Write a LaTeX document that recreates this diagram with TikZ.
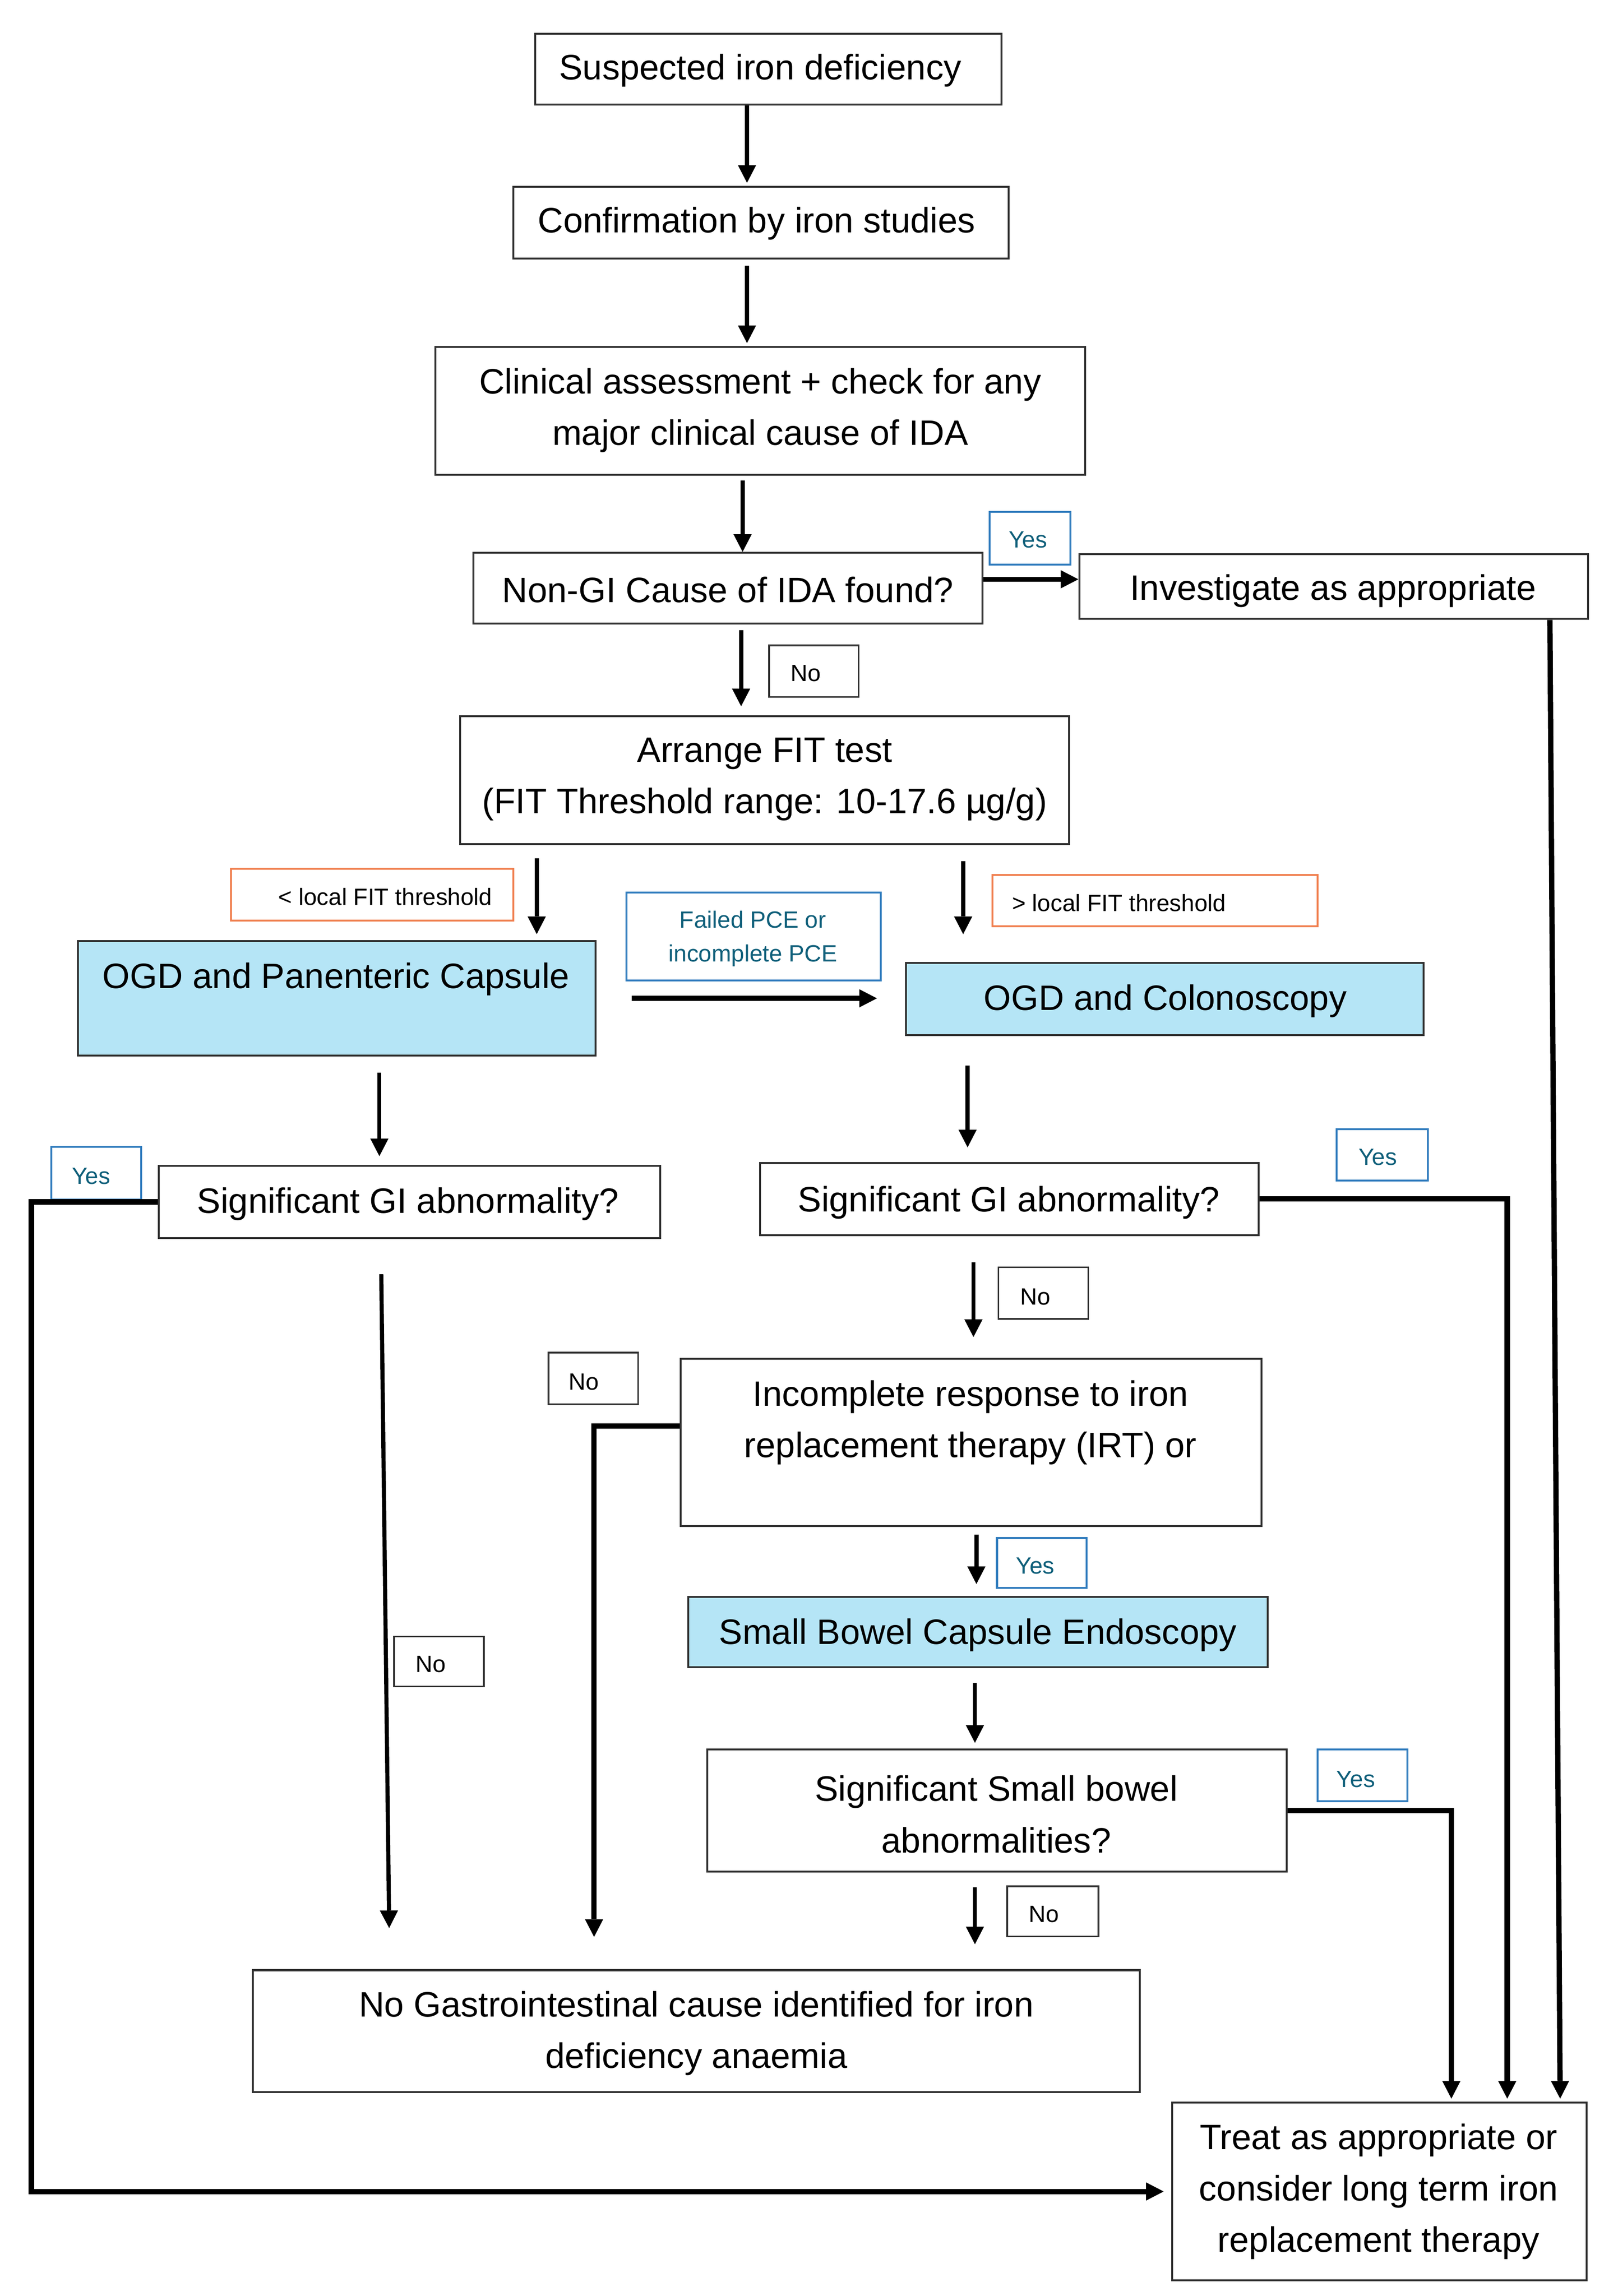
\documentclass[tikz,border=0pt]{standalone}
\usepackage{fontspec}
\setmainfont{Liberation Sans}
\usetikzlibrary{arrows.meta}
\definecolor{capblue}{RGB}{181,229,246}
\definecolor{lblblue}{RGB}{50,125,190}
\definecolor{lblorange}{RGB}{240,128,80}
\definecolor{lblteal}{RGB}{15,95,122}
\definecolor{edgegray}{RGB}{50,50,50}
\newcommand\bx[6]{\node[#2, minimum width={(#5-#3)*0.5pt}, minimum height={(#6-#4)*0.5pt}] (#1) at ({(#3+#5)/2},{(#4+#6)/2}) {};}
\tikzset{
  frame/.style={draw=edgegray, line width=0.65pt, inner sep=0pt, rectangle},
  capfill/.style={frame, fill=capblue},
  lblbox/.style={draw=edgegray, line width=0.55pt, inner sep=0pt, rectangle},
  yesbox/.style={draw=lblblue, line width=0.65pt, inner sep=0pt, rectangle},
  orbox/.style={draw=lblorange, line width=0.65pt, inner sep=0pt, rectangle},
  maintxt/.style={font=\fontsize{12}{17.5}\selectfont, align=center, inner sep=0pt},
  smalltxt/.style={font=\fontsize{8}{11.5}\selectfont, align=center, inner sep=0pt},
  yestxt/.style={smalltxt, text=lblteal},
  arr/.style={-{Triangle[length=6pt,width=6.2pt,line width=0pt]}, line width=1.4pt},
  arrthick/.style={arr, line width=1.8pt},
}
\begin{document}
\begin{tikzpicture}[x=0.5pt,y=-0.5pt]
\fill[white] (0,0) rectangle (1100,1561.6);
\useasboundingbox (0,0) rectangle (1100,1561.6);

% main boxes
\bx{b1}{frame}{364}{23}{681}{71}
\bx{b2}{frame}{349}{127}{686}{176}
\bx{b3}{frame}{296}{236}{738}{323}
\bx{b4}{frame}{322}{376}{668}{424}
\bx{b5}{frame}{734}{377}{1080}{421}
\bx{b8}{frame}{313}{487}{727}{574}
\bx{ogdp}{capfill}{53}{640}{405}{718}
\bx{ogdc}{capfill}{616}{655}{968}{704}
\bx{sigL}{frame}{108}{793}{449}{842}
\bx{sigR}{frame}{517}{791}{856}{840}
\bx{incomp}{frame}{463}{924}{858}{1038}
\bx{sbce}{capfill}{468}{1086}{862}{1134}
\bx{sigS}{frame}{481}{1190}{875}{1273}
\bx{nogi}{frame}{172}{1340}{775}{1423}
\bx{treat}{frame}{797}{1430}{1079}{1551}

% label boxes
\bx{yes1}{yesbox}{673}{348}{728}{384}
\bx{no1}{lblbox}{523}{439}{584}{474}
\bx{lt}{orbox}{157}{591}{349}{626}
\bx{fail}{yesbox}{426}{607}{599}{667}
\bx{gt}{orbox}{675}{595}{896}{630}
\bx{yes2}{yesbox}{35}{780}{96}{816}
\bx{yes3}{yesbox}{909}{768}{971}{803}
\bx{no2}{lblbox}{679}{862}{740}{897}
\bx{no3}{lblbox}{373}{920}{434}{955}
\bx{yes4}{yesbox}{678}{1046}{739}{1080}
\bx{yes5}{yesbox}{896}{1190}{957}{1225}
\bx{no4}{lblbox}{268}{1113}{329}{1147}
\bx{no5}{lblbox}{685}{1283}{747}{1317}

% main texts
\node[maintxt] (t1) at (517,48) {Suspected iron deficiency};
\node[maintxt] (t2) at (514.5,152) {Confirmation by iron studies};
\node[maintxt] (t3) at (517,279) {Clinical assessment + check for any\\major clinical cause of IDA};
\node[maintxt] (t4) at (495,401) {Non-GI Cause of IDA found?};
\node[maintxt] (t5) at (906.5,402) {Investigate as appropriate};
\node[maintxt] (t8) at (520,530) {Arrange FIT test\\(FIT Threshold range: 10-17.6 µg/g)};
\node[maintxt] (togdp) at (228.5,666) {OGD and Panenteric Capsule};
\node[maintxt] (togdc) at (792.5,681) {OGD and Colonoscopy};
\node[maintxt] (tsigL) at (277.5,819) {Significant GI abnormality?};
\node[maintxt] (tsigR) at (686,818) {Significant GI abnormality?};
\node[maintxt] (tincomp) at (660,967.5) {Incomplete response to iron\\replacement therapy (IRT) or};
\node[maintxt] (tsbce) at (665,1112) {Small Bowel Capsule Endoscopy};
\node[maintxt] (tsigS) at (677.5,1234) {Significant Small bowel\\abnormalities?};
\node[maintxt] (tnogi) at (473.5,1383) {No Gastrointestinal cause identified for iron\\deficiency anaemia};
\node[maintxt] (ttreat) at (937.5,1490.5) {Treat as appropriate or\\consider long term iron\\replacement therapy};

% label texts
\node[yestxt] (tyes1) at (699,367) {Yes};
\node[smalltxt] (tno1) at (548,458) {No};
\node[smalltxt] (tlt) at (262,610) {< local FIT threshold};
\node[yestxt] (tfail) at (512,638.5) {Failed PCE or\\incomplete PCE};
\node[smalltxt] (tgt) at (761,614) {> local FIT threshold};
\node[yestxt] (tyes2) at (62,800) {Yes};
\node[yestxt] (tyes3) at (937,787) {Yes};
\node[smalltxt] (tno2) at (704,882) {No};
\node[smalltxt] (tno3) at (397,940) {No};
\node[yestxt] (tyes4) at (704,1065) {Yes};
\node[yestxt] (tyes5) at (922,1210) {Yes};
\node[smalltxt] (tno4) at (293,1132) {No};
\node[smalltxt] (tno5) at (710,1302) {No};

% connectors
\draw[arr,shorten >=1pt] (b1.south -| 508,0) -- (b2.north -| 508,0);
\draw[arr,shorten <=2pt,shorten >=1pt] (b2.south -| 508,0) -- (b3.north -| 508,0);
\draw[arr,shorten <=1.5pt] (b3.south -| 505,0) -- (b4.north -| 505,0);
\draw[arr,line width=1.5pt] ([yshift=3pt]b4.east) -- ([yshift=2.5pt]b5.west);
\draw[arr,shorten <=2pt,shorten >=3pt] (b4.south -| 504,0) -- (b8.north -| 504,0);
\draw[arr,shorten <=4.5pt,shorten >=2pt] (b8.south -| 365,0) -- (ogdp.north -| 365,0);
\draw[arr,shorten <=5.5pt,shorten >=9.5pt] (b8.south -| 655,0) -- (ogdc.north -| 655,0);
\draw[arrthick,shorten <=12pt,shorten >=9.5pt] (ogdp.east) -- (ogdc.west |- ogdp.east);
\draw[arr,shorten <=5.5pt,shorten >=3pt] (ogdp.south -| 258,0) -- (sigL.north -| 258,0);
\draw[arr,shorten <=10pt,shorten >=5pt] (ogdc.south -| 658,0) -- (sigR.north -| 658,0);
\draw[arrthick,shorten >=2.5pt] (sigL.west) -- ++(-86,0) |- (treat.west);
\draw[arr,shorten <=12pt,shorten >=14pt] (sigL.south -| 259,0) -- (nogi.north -| 265,0);
\draw[arrthick,shorten >=1pt] (sigR.east) -| (treat.north -| 1025,0);
\draw[arr,shorten <=9pt,shorten >=7pt] (sigR.south -| 662,0) -- (incomp.north -| 662,0);
\draw[arrthick,shorten >=11pt] ([yshift=5.5pt]incomp.west) -| (nogi.north -| 404,0);
\draw[arr,shorten <=2.5pt,shorten >=4pt] (incomp.south -| 664,0) -- (sbce.north -| 664,0);
\draw[arr,shorten <=5pt,shorten >=2pt] (sbce.south -| 663,0) -- (sigS.north -| 663,0);
\draw[arrthick,shorten >=1pt] (sigS.east) -| (treat.north -| 987,0);
\draw[arr,shorten <=5pt,shorten >=8.5pt] (sigS.south -| 663,0) -- (nogi.north -| 663,0);
\draw[arrthick,shorten >=1pt] (b5.south -| 1054,0) -- (treat.north -| 1061,0);
\end{tikzpicture}
\end{document}
